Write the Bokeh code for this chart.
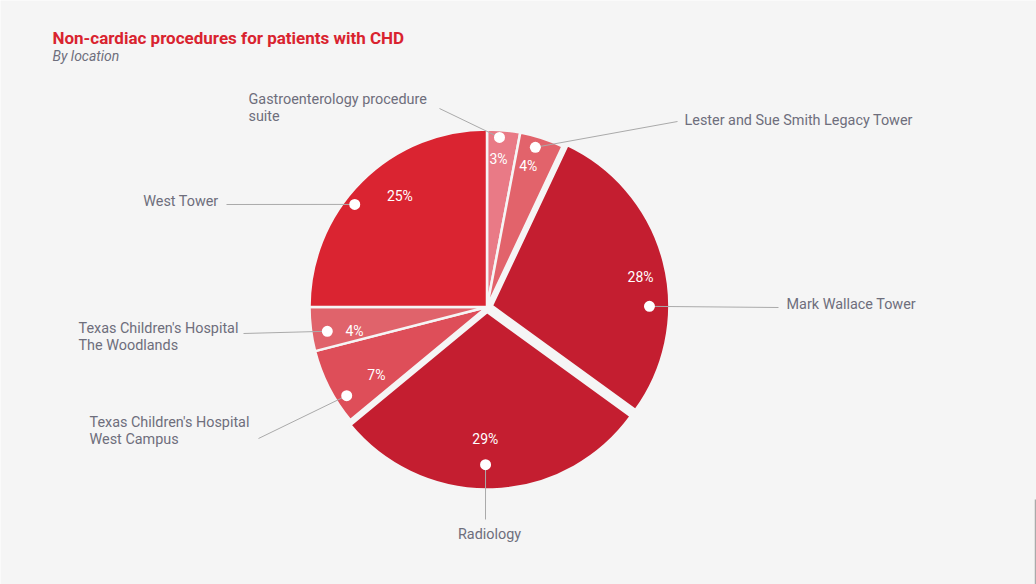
import math
from bokeh.plotting import figure
from bokeh.models import Range1d
from bokeh.core.properties import value
from bokeh.embed import file_html
from bokeh.resources import INLINE

# ---------------- data ----------------
locations = [
    "Gastroenterology procedure\nsuite",
    "Lester and Sue Smith Legacy Tower",
    "Mark Wallace Tower",
    "Radiology",
    "Texas Children's Hospital\nWest Campus",
    "Texas Children's Hospital\nThe Woodlands",
    "West Tower",
]
shares = [3, 4, 28, 29, 7, 4, 25]
colors = ["#E97A86", "#E2636B", "#C41E30", "#C41E30", "#DE4E59", "#E0636B", "#DA2431"]

title_text = "Non-cardiac procedures for patients with CHD"
subtitle_text = "By location"

# ---------------- layout ----------------
BG = "#F5F5F5"
W, H = 1036, 584
CX, CY, R = 486.5, 306.5, 177.5          # screen coords of pie centre
explode = [0, 0, 5, 5, 0, 0, 0]
dot_frac = [0.39, 0.42, 0.645, 0.523, 0.29, 0.40, 0.42]
dot_r = [0.958, 0.94, 0.888, 0.86, 0.935, 0.91, 0.943]
pct_frac = [0.41, 0.38, 0.535, 0.525, 0.325, 0.30, 0.577]
pct_r = [0.835, 0.83, 0.853, 0.713, 0.73, 0.758, 0.796]
leader_end = [(439, 108), (677, 121), (778, 307), (485, 519), (258, 438), (243, 333), (226, 204)]
label_pos = [(248, 107.5, "left"), (684, 120, "left"), (786, 304, "left"),
             (489, 534, "center"), (89, 430.5, "left"), (78, 336.5, "left"), (218, 201, "right")]


def sy(y):  # screen y -> data y
    return H - y


p = figure(width=W, height=H, output_backend="svg", toolbar_location=None,
           x_range=Range1d(0, W), y_range=Range1d(0, H),
           background_fill_color=BG, border_fill_color=BG, min_border=0,
           outline_line_color=None)
p.axis.visible = False
p.grid.visible = False

total = float(sum(shares))
acc = 0.0
wx, wy, sa, ea = [], [], [], []
dots_x, dots_y, pct_x, pct_y, pct_t = [], [], [], [], []
for i, v in enumerate(shares):
    t1 = acc / total * 2 * math.pi
    t2 = (acc + v) / total * 2 * math.pi
    acc += v
    mid = (t1 + t2) / 2
    cx = CX + explode[i] * math.sin(mid)
    cy = sy(CY) + explode[i] * math.cos(mid)
    wx.append(cx); wy.append(cy)
    sa.append(math.pi / 2 - t1); ea.append(math.pi / 2 - t2)
    ta = t1 + dot_frac[i] * (t2 - t1)
    dots_x.append(cx + dot_r[i] * R * math.sin(ta))
    dots_y.append(cy + dot_r[i] * R * math.cos(ta))
    tp = t1 + pct_frac[i] * (t2 - t1)
    pct_x.append(cx + pct_r[i] * R * math.sin(tp))
    pct_y.append(cy + pct_r[i] * R * math.cos(tp))
    pct_t.append(f"{v}%")

p.wedge(x=wx, y=wy, radius=R, start_angle=sa, end_angle=ea, direction="clock",
        fill_color=colors, line_color=BG, line_width=2.5)

# leader lines
for i in range(len(shares)):
    ex, ey = leader_end[i]
    p.line([dots_x[i], ex], [dots_y[i], sy(ey)], line_color="#AAAAAA", line_width=1)

p.scatter(dots_x, dots_y, size=11, marker="circle", fill_color="white", line_color=None)

p.text(x=pct_x, y=pct_y, text=pct_t, text_color="white", text_font=value("Roboto"),
       text_font_size="14px", text_align="center", text_baseline="middle")

for i, name in enumerate(locations):
    lx, ly, al = label_pos[i]
    p.text(x=[lx], y=[sy(ly)], text=[name], text_color="#6E6E7C", text_font=value("Roboto"),
           text_font_size="14.4px", text_align=al, text_baseline="middle", text_line_height=1.02)

p.text(x=[52], y=[sy(37)], text=[title_text], text_color="#D9232F", text_font=value("Roboto"),
       text_font_size="17px", text_font_style="bold", text_baseline="middle")
p.text(x=[52], y=[sy(55)], text=[subtitle_text], text_color="#6E6E7C", text_font=value("Roboto"),
       text_font_size="14px", text_font_style="italic", text_baseline="middle")

# thin grey edge line at the lower right of the frame
p.line([1035, 1035], [sy(499), sy(584)], line_color="#AAAAAA", line_width=1.5)

html = file_html(p, INLINE)
html = html.replace("<body>", '<body style="background:#F5F5F5;margin:0;overflow:hidden;">', 1)
open("out.html", "w").write(html)
